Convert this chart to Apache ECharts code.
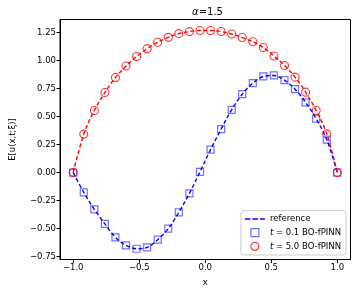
<!DOCTYPE html>
<html>
<head>
<meta charset="utf-8">
<script src="https://cdn.jsdelivr.net/npm/echarts@6/dist/echarts.min.js"></script>
<style>html,body{margin:0;padding:0;background:#fff}#c{width:357px;height:295px}</style>
</head>
<body>
<div id="c"></div>
<script>
var xs = [-1.00,-0.92,-0.84,-0.76,-0.68,-0.60,-0.52,-0.44,-0.36,-0.28,-0.20,-0.12,-0.04,0.04,0.12,0.20,0.28,0.36,0.44,0.52,0.60,0.68,0.76,0.84,0.92,1.00];
var uT01 = [0.000,-0.176,-0.328,-0.458,-0.578,-0.649,-0.679,-0.667,-0.598,-0.500,-0.354,-0.185,0.006,0.204,0.387,0.560,0.699,0.798,0.857,0.866,0.824,0.744,0.626,0.481,0.294,0.000];
var uT50 = [0.000,0.343,0.554,0.714,0.848,0.950,1.035,1.105,1.162,1.206,1.239,1.257,1.267,1.267,1.258,1.236,1.204,1.166,1.115,1.040,0.955,0.851,0.717,0.554,0.345,0.000];
var refT01 = uT01.slice();
var refT50 = uT50.slice();
var xTicks = [-1.0,-0.5,0.0,0.5,1.0];
var yTicks = [-0.75,-0.50,-0.25,0.00,0.25,0.50,0.75,1.00,1.25];

function pairs(x, y){ return x.map(function(v,i){ return [v, y[i]]; }); }
function fmt(v, d){ var s = Math.abs(v).toFixed(d); return (v < -1e-9 ? '\u2212' : '') + s; }

var FONT = 'DejaVu Sans';
var chart = echarts.init(document.getElementById('c'), null, {renderer:'canvas'});
chart.setOption({
  animation: false,
  backgroundColor: '#fff',
  title: { text: '{i|\u03b1}=1.5', left: 202.5, textAlign: 'center', top: 2,
    textStyle: { fontFamily: FONT, fontSize: 10, fontWeight: 'normal', color: '#000',
      rich: { i: { fontFamily: FONT, fontSize: 10, fontStyle: 'italic', color: '#000' } } } },
  grid: { left: 54.5, top: 19.5, width: 296, height: 240, show: true, borderColor: '#000', borderWidth: 1, backgroundColor: 'transparent' },
  xAxis: { type: 'value', min: -1.1, max: 1.1,
    name: 'x', nameLocation: 'middle', nameGap: 19,
    nameTextStyle: { fontFamily: FONT, fontSize: 8.5, color: '#000' },
    axisLine: { show: true, onZero: false, lineStyle: { color: '#000', width: 1 } },
    axisTick: { show: true, length: 3.5, lineStyle: { color: '#000' }, customValues: xTicks },
    axisLabel: { fontFamily: FONT, fontSize: 8.5, color: '#000', margin: 4, customValues: xTicks, formatter: function(v){ return fmt(v,1); } },
    splitLine: { show: false } },
  yAxis: { type: 'value', min: -0.775, max: 1.365,
    name: 'E[u(x,t;\u03be)]', nameLocation: 'middle', nameGap: 43, nameRotate: 90,
    nameTextStyle: { fontFamily: FONT, fontSize: 8.5, color: '#000' },
    axisLine: { show: true, onZero: false, lineStyle: { color: '#000', width: 1 } },
    axisTick: { show: true, length: 3.5, lineStyle: { color: '#000' }, customValues: yTicks },
    axisLabel: { fontFamily: FONT, fontSize: 8.5, color: '#000', margin: 4, customValues: yTicks, formatter: function(v){ return fmt(v,2); } },
    splitLine: { show: false } },
  legend: {
    orient: 'vertical', right: 11, bottom: 40, align: 'left',
    backgroundColor: 'rgba(255,255,255,0.85)', borderColor: '#ccc', borderWidth: 1, borderRadius: 3,
    padding: [4, 5, 4, 4], itemGap: 4.5, itemWidth: 20, itemHeight: 8,
    textStyle: { fontFamily: FONT, fontSize: 8.5, color: '#000',
      rich: { i: { fontFamily: FONT, fontSize: 8.5, fontStyle: 'italic', color: '#000' } } },
    data: [
      { name: 'reference', icon: 'path://M0,0h5.5v1.5h-5.5Z M7.5,0h5.5v1.5h-5.5Z M15,0h5v1.5h-5Z', itemStyle: { color: '#0000ff', borderWidth: 0 } },
      { name: 't01', icon: 'path://M0,0L1,0L1,1L0,1Z', itemStyle: { color: 'rgba(0,0,0,0)', borderColor: 'rgba(0,0,255,0.7)', borderWidth: 1.2 } },
      { name: 't50', icon: 'circle', itemStyle: { color: 'rgba(0,0,0,0)', borderColor: '#ff0000', borderWidth: 1.2 } }
    ],
    formatter: function(n){
      if (n === 't01') return '{i|t} = 0.1 BO-fPINN';
      if (n === 't50') return '{i|t} = 5.0 BO-fPINN';
      return n;
    }
  },
  series: [
    { name: 't01', type: 'scatter', data: pairs(xs, uT01), symbol: 'rect', symbolSize: 7, z: 2,
      itemStyle: { color: 'rgba(0,0,0,0)', borderColor: 'rgba(0,0,255,0.7)', borderWidth: 1.2 } },
    { name: 't50', type: 'scatter', data: pairs(xs, uT50), symbol: 'circle', symbolSize: 8, z: 2,
      itemStyle: { color: 'rgba(0,0,0,0)', borderColor: '#ff0000', borderWidth: 1.1 } },
    { name: 'reference', type: 'line', data: pairs(xs, refT01), showSymbol: false, symbol: 'none', smooth: 0.35, z: 3,
      lineStyle: { color: '#0000ff', width: 1.4, type: [4, 2.5] }, itemStyle: { color: '#0000ff' } },
    { name: 'reference5', type: 'line', data: pairs(xs, refT50), showSymbol: false, symbol: 'none', smooth: 0.35, z: 3,
      lineStyle: { color: '#ff0000', width: 1.4, type: [4, 2.5] }, itemStyle: { color: '#ff0000' } }
  ]
});
</script>
</body>
</html>
